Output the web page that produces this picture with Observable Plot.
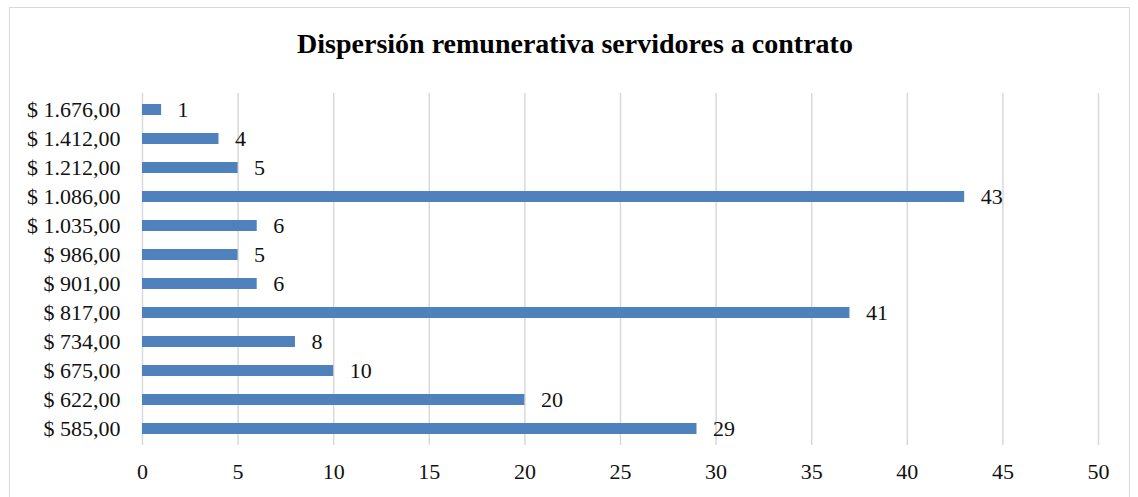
<!DOCTYPE html>
<html>
<head>
<meta charset="utf-8">
<script src="https://cdn.jsdelivr.net/npm/d3@7"></script>
<script src="https://cdn.jsdelivr.net/npm/@observablehq/plot@0.6"></script>
<style>
  body { margin: 0; background: #fff; font-family: "Liberation Serif", "DejaVu Serif", serif; }
  #wrap { position: relative; width: 1138px; height: 497px; overflow: hidden; }
  #frame { position: absolute; left: 9px; top: 7px; width: 1121px; height: 500px; border: 1px solid #d9d9d9; box-sizing: border-box; }
  #title { position: absolute; left: 0; width: 1150px; top: 28px; text-align: center; font-weight: bold; font-size: 28px; color: #000; }
  #chart { position: absolute; left: 0; top: 0; }
</style>
</head>
<body>
<div id="wrap">
  <div id="frame"></div>
  <div id="title">Dispersión remunerativa servidores a contrato</div>
  <div id="chart"></div>
</div>
<script>
const categories = ["$ 585,00", "$ 622,00", "$ 675,00", "$ 734,00", "$ 817,00", "$ 901,00", "$ 986,00", "$ 1.035,00", "$ 1.086,00", "$ 1.212,00", "$ 1.412,00", "$ 1.676,00"];
const values = [29, 20, 10, 8, 37, 6, 5, 6, 43, 5, 4, 1];
const labels = ["29", "20", "10", "8", "41", "6", "5", "6", "43", "5", "4", "1"];
const xTicks = [0, 5, 10, 15, 20, 25, 30, 35, 40, 45, 50];

const data = categories.map((c, i) => ({cat: c, v: values[i], lab: labels[i]}));

const chart = Plot.plot({
  width: 1138,
  height: 497,
  marginTop: 93,
  marginBottom: 52,
  marginLeft: 142,
  marginRight: 40,
  style: {fontFamily: "'Liberation Serif', serif", fontSize: "22px", color: "#111", background: "transparent"},
  x: {domain: [0, 50], ticks: xTicks, label: null},
  y: {domain: categories.slice().reverse(), paddingInner: 0.625, paddingOuter: 0.3125, label: null},
  marks: [
    Plot.gridX(xTicks, {stroke: "#d9d9d9", strokeOpacity: 1, strokeWidth: 1.5}),
    Plot.barX(data, {x: "v", y: "cat", fill: "#4f81bd"}),
    Plot.text(data, {x: "v", y: "cat", text: "lab", textAnchor: "start", dx: 16, fill: "#111", fontSize: 22}),
    Plot.axisX(xTicks, {tickSize: 0, tickPadding: 18, fontSize: 22, label: null}),
    Plot.axisY({tickSize: 0, tickPadding: 22, fontSize: 22, label: null})
  ]
});
document.getElementById("chart").appendChild(chart);
</script>
</body>
</html>
